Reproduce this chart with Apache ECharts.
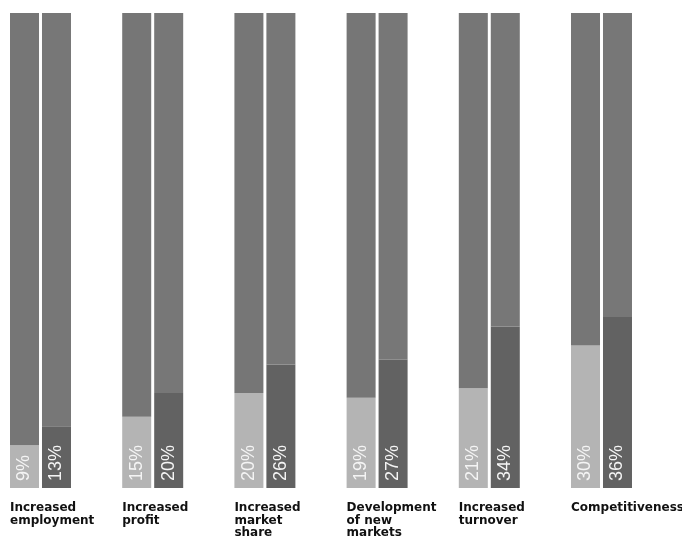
<!DOCTYPE html>
<html>
<head>
<meta charset="utf-8">
<script src="https://cdn.jsdelivr.net/npm/echarts@6/dist/echarts.min.js"></script>
<style>html,body{margin:0;padding:0;background:#fff;}#c{width:682px;height:545px;}</style>
</head>
<body>
<div id="c"></div>
<script>
var categories = ['Increased\nemployment', 'Increased\nprofit', 'Increased\nmarket\nshare', 'Development\nof new\nmarkets', 'Increased\nturnover', 'Competitiveness'];
var seriesA = [9, 15, 20, 19, 21, 30];
var seriesB = [13, 20, 26, 27, 34, 36];
var total = 100;

var restA = seriesA.map(function (v) { return total - v; });
var restB = seriesB.map(function (v) { return total - v; });

var chart = echarts.init(document.getElementById('c'));
var pctLabel = {
  show: true,
  position: 'insideBottom',
  distance: 7,
  rotate: 90,
  align: 'left',
  verticalAlign: 'middle',
  formatter: '{c}%',
  color: '#f4f4f4',
  fontFamily: '"Liberation Sans", Arial, sans-serif',
  fontSize: 18
};
var common = { type: 'bar', barWidth: 29, barGap: '10.3%', clip: false, animation: false };
chart.setOption({
  animation: false,
  grid: { left: 40.5, width: 561, top: 13, bottom: 57, containLabel: false, outerBoundsMode: 'none' },
  xAxis: {
    type: 'category',
    data: categories,
    boundaryGap: false,
    axisLine: { show: false },
    axisTick: { show: false },
    splitLine: { show: false },
    axisLabel: {
      interval: 0,
      align: 'left',
      verticalAlign: 'top',
      padding: [0, 0, 0, -30.5],
      margin: 14,
      color: '#111',
      fontFamily: 'DejaVu Sans',
      fontWeight: 'bold',
      fontSize: 12,
      lineHeight: 12.5
    }
  },
  yAxis: { type: 'value', min: 0, max: 100, show: false, splitLine: { show: false } },
  series: [
    Object.assign({}, common, { name: 'A', stack: 'a', data: seriesA, itemStyle: { color: '#b4b4b4' }, label: pctLabel }),
    Object.assign({}, common, { name: 'Arest', stack: 'a', data: restA, itemStyle: { color: '#767676' } }),
    Object.assign({}, common, { name: 'B', stack: 'b', data: seriesB, itemStyle: { color: '#626262' }, label: pctLabel }),
    Object.assign({}, common, { name: 'Brest', stack: 'b', data: restB, itemStyle: { color: '#777777' } })
  ]
});
</script>
</body>
</html>
